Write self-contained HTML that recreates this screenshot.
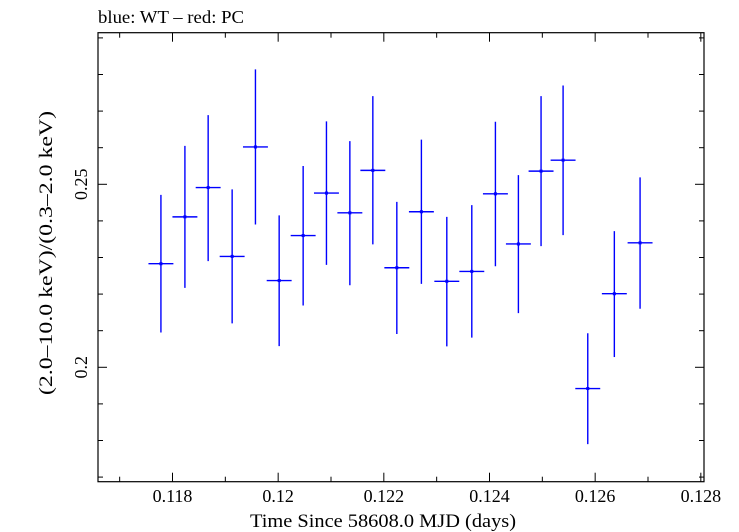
<!DOCTYPE html>
<html><head><meta charset="utf-8"><style>
body{margin:0;background:#fff}
svg{display:block;font-family:"Liberation Serif",serif}
</style></head><body>
<svg id="chart" width="739" height="532" viewBox="0 0 739 532" xmlns="http://www.w3.org/2000/svg">
<text x="98" y="23" font-size="18" textLength="146" lengthAdjust="spacingAndGlyphs">blue: WT – red: PC</text>
<g id="axes"></g>
<g id="marks"></g>
<text x="250" y="527" font-size="19" textLength="266" lengthAdjust="spacingAndGlyphs">Time Since 58608.0 MJD (days)</text>
<text transform="translate(52,395) rotate(-90)" font-size="19" textLength="284" lengthAdjust="spacingAndGlyphs">(2.0–10.0 keV)/(0.3–2.0 keV)</text>
</svg>
<script>
const times=[0.117781,0.118235,0.118675,0.119129,0.119570,0.120019,0.120473,0.120914,0.121357,0.121792,0.122246,0.122711,0.123192,0.123665,0.124112,0.124547,0.124976,0.125393,0.125860,0.126363,0.126850];
const ratios=[0.2283,0.2411,0.2491,0.2303,0.2602,0.2237,0.2360,0.2476,0.2422,0.2538,0.2272,0.2425,0.2235,0.2262,0.2474,0.2337,0.2536,0.2566,0.1942,0.2201,0.2340];
const ratioHi=[0.2471,0.2605,0.2689,0.2486,0.2814,0.2415,0.2550,0.2672,0.2618,0.2741,0.2452,0.2622,0.2411,0.2443,0.2671,0.2525,0.2741,0.2770,0.2093,0.2372,0.2519];
const ratioLo=[0.2095,0.2217,0.2290,0.2120,0.2390,0.2058,0.2169,0.2280,0.2224,0.2336,0.2091,0.2228,0.2057,0.2081,0.2276,0.2148,0.2331,0.2361,0.1790,0.2028,0.2160];
const timeHalfWidth=0.000236;
const xTicks=[0.118,0.12,0.122,0.124,0.126,0.128];
const xTickLabels=["0.118","0.12","0.122","0.124","0.126","0.128"];
const yTicks=[0.2,0.25];
const yTickLabels=["0.2","0.25"];

const L=98,R=704,T=32.7,B=481.7;
const xMin=0.11659,xMax=0.12806,yMin=0.16874,yMax=0.29142;
const X=v=>L+(v-xMin)/(xMax-xMin)*(R-L);
const Y=v=>B-(v-yMin)/(yMax-yMin)*(B-T);
const NS="http://www.w3.org/2000/svg";
function mk(tag,attrs,parent){const e=document.createElementNS(NS,tag);for(const k in attrs)e.setAttribute(k,attrs[k]);parent.appendChild(e);return e;}
const axes=document.getElementById('axes');
const frame=mk('rect',{x:L,y:T,width:R-L,height:B-T,fill:'none',stroke:'#000','stroke-width':1.2},axes);


for(let i=0;i<=12;i++){
  const v=0.117+i*0.001; if(v<xMin||v>xMax+1e-9)continue;
  const major=Math.abs(Math.round(v*1000)%2)===0;
  const len=major?9:5, x=X(v);
  const t1=mk('line',{x1:x,x2:x,y1:B,y2:B-len,stroke:'#000'},axes);
  
  
  const t2=mk('line',{x1:x,x2:x,y1:T,y2:T+len,stroke:'#000'},axes);
  
  
}
xTicks.forEach((v,i)=>{
  const t=mk('text',{x:X(v),y:502,'font-size':18,'text-anchor':'middle'},axes);
  t.textContent=xTickLabels[i];
  
  
});
for(let i=0;i<=13;i++){
  const v=0.17+i*0.01; if(v<yMin||v>yMax)continue;
  const major=Math.abs(Math.round(v*100)%5)===0;
  const len=major?9:5, y=Y(v);
  const t1=mk('line',{x1:L,x2:L+len,y1:y,y2:y,stroke:'#000'},axes);
  
  
  const t2=mk('line',{x1:R,x2:R-len,y1:y,y2:y,stroke:'#000'},axes);
  
  
}
yTicks.forEach((v,i)=>{
  const t=mk('text',{transform:`translate(87,${Y(v)}) rotate(-90)`,'font-size':18,'text-anchor':'middle'},axes);
  t.textContent=yTickLabels[i];
  
  
});
const marks=document.getElementById('marks');
times.forEach((t,i)=>{
  const g=mk('g',{stroke:'#0000ff','stroke-width':1.4},marks);
  
  
  mk('line',{x1:X(t),x2:X(t),y1:Y(ratioHi[i]),y2:Y(ratioLo[i])},g);
  mk('line',{x1:X(t-timeHalfWidth),x2:X(t+timeHalfWidth),y1:Y(ratios[i]),y2:Y(ratios[i])},g);
  mk('rect',{x:X(t)-1.5,y:Y(ratios[i])-1.5,width:3,height:3,fill:'#0000ff',stroke:'none'},g);
});
</script>
</body></html>
